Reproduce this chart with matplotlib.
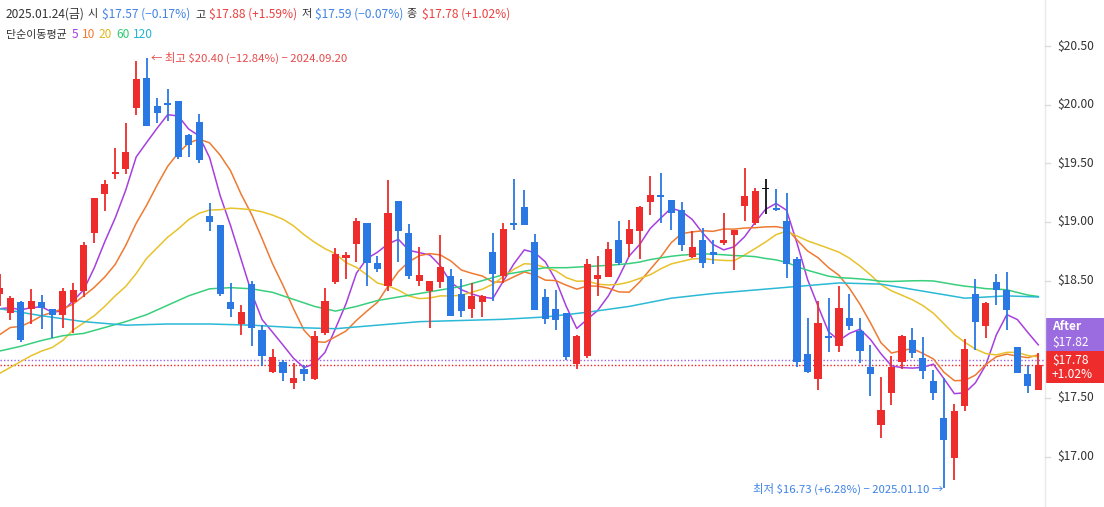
import numpy as np
import matplotlib
matplotlib.use("Agg")
import matplotlib.pyplot as plt
from matplotlib.patches import Rectangle
from matplotlib.lines import Line2D

plt.rcParams['font.family'] = ['Noto Sans CJK KR', 'DejaVu Sans']

# ---------------- data ----------------
opens = [18.39, 18.22, 18.32, 18.26, 18.32, 18.26, 18.21, 18.32, 18.41, 18.91,
         19.24, 19.41, 19.45, 19.97, 20.23, 19.99, 20.01, 20.03, 19.74, 19.85,
         19.05, 18.97, 18.32, 18.13, 18.47, 18.08, 17.72, 17.81, 17.63, 17.75,
         17.66, 18.05, 18.49, 18.69, 18.81, 18.99, 18.65, 18.45, 19.18, 18.91,
         18.50, 18.41, 18.49, 18.54, 18.39, 18.26, 18.32, 18.74, 18.54, 18.99,
         19.13, 18.83, 18.36, 18.26, 18.22, 17.79, 17.86, 18.51, 18.53, 18.85,
         18.81, 18.92, 19.17, 19.23, 19.19, 19.10, 18.70, 18.85, 18.74, 18.82,
         18.89, 19.14, 18.99, 19.28, 19.12, 19.01, 18.68, 17.87, 17.66, 18.03,
         17.94, 18.18, 18.07, 17.76, 17.27, 17.54, 17.81, 17.99, 17.84, 17.64,
         17.33, 16.99, 17.43, 18.39, 18.11, 18.49, 18.42, 17.93, 17.70, 17.57]
highs = [18.56, 18.37, 18.33, 18.43, 18.38, 18.26, 18.44, 18.48, 18.83, 19.20,
         19.36, 19.63, 19.84, 20.37, 20.40, 20.06, 20.13, 20.03, 19.75, 19.92,
         19.16, 18.97, 18.48, 18.29, 18.50, 18.12, 17.92, 17.82, 17.80, 17.78,
         18.07, 18.44, 18.78, 18.74, 19.03, 18.99, 18.71, 19.36, 19.18, 18.98,
         18.79, 18.50, 18.89, 18.60, 18.51, 18.48, 18.38, 18.91, 18.99, 19.37,
         19.27, 18.90, 18.43, 18.42, 18.22, 18.04, 18.68, 18.71, 18.83, 19.01,
         19.02, 19.14, 19.39, 19.42, 19.19, 19.17, 18.92, 18.95, 18.85, 19.08,
         18.93, 19.46, 19.29, 19.37, 19.28, 19.25, 18.70, 18.18, 18.33, 18.35,
         18.45, 18.39, 18.18, 17.95, 17.68, 17.86, 18.04, 18.10, 18.02, 17.74,
         17.67, 17.45, 18.00, 18.51, 18.32, 18.56, 18.57, 17.93, 17.78, 17.88]
lows = [18.28, 18.16, 17.98, 18.13, 18.09, 18.01, 18.10, 18.05, 18.36, 18.82,
        19.09, 19.37, 19.41, 19.91, 19.82, 19.84, 19.86, 19.54, 19.55, 19.50,
        18.92, 18.37, 18.19, 18.04, 17.94, 17.77, 17.71, 17.64, 17.58, 17.64,
        17.65, 18.04, 18.47, 18.51, 18.66, 18.45, 18.57, 18.41, 18.66, 18.51,
        18.45, 18.10, 18.44, 18.20, 18.19, 18.18, 18.19, 18.33, 18.48, 18.93,
        18.97, 18.25, 18.13, 18.08, 17.82, 17.75, 17.84, 18.37, 18.53, 18.63,
        18.70, 18.68, 19.06, 18.99, 18.93, 18.75, 18.69, 18.61, 18.64, 18.80,
        18.59, 19.01, 18.97, 19.07, 19.09, 18.52, 17.76, 17.71, 17.57, 17.89,
        17.89, 18.08, 17.80, 17.52, 17.16, 17.44, 17.75, 17.84, 17.66, 17.48,
        16.73, 16.80, 17.39, 17.91, 18.01, 18.29, 18.08, 17.71, 17.54, 17.57]
closes = [18.44, 18.35, 17.99, 18.33, 18.27, 18.21, 18.41, 18.42, 18.80, 19.20,
          19.32, 19.43, 19.60, 20.22, 19.82, 19.93, 20.00, 19.55, 19.66, 19.53,
          19.00, 18.39, 18.26, 18.23, 18.10, 17.86, 17.85, 17.71, 17.67, 17.70,
          18.03, 18.33, 18.73, 18.72, 19.01, 18.65, 18.60, 19.08, 18.92, 18.54,
          18.55, 18.50, 18.62, 18.20, 18.24, 18.37, 18.37, 18.56, 18.94, 18.97,
          18.97, 18.25, 18.17, 18.16, 17.85, 18.03, 18.64, 18.55, 18.77, 18.65,
          18.94, 19.13, 19.23, 19.21, 19.08, 18.80, 18.79, 18.65, 18.72, 18.85,
          18.93, 19.22, 19.26, 19.28, 19.10, 18.64, 17.81, 17.72, 18.14, 18.01,
          18.27, 18.11, 17.90, 17.70, 17.40, 17.76, 18.03, 17.88, 17.73, 17.54,
          17.14, 17.39, 17.92, 18.15, 18.31, 18.42, 18.25, 17.71, 17.60, 17.78]

# moving-average values before enough visible candles exist
ma5_head = [18.26, 18.27, 18.25, 18.27]
ma10_head = [18.04, 18.10, 18.11, 18.15, 18.20, 18.23, 18.26, 18.30, 18.37]
ma20_head = [17.71, 17.76, 17.81, 17.86, 17.90, 17.93, 17.99, 18.08, 18.14, 18.20,
             18.28, 18.37, 18.45, 18.56, 18.69, 18.78, 18.87, 18.94, 19.02]
ma60_head_idx = list(range(0, 59, 2))
ma60_head = [17.90, 17.94, 17.99, 18.03, 18.05, 18.10, 18.15, 18.21, 18.29, 18.37,
             18.43, 18.44, 18.43, 18.40, 18.34, 18.28, 18.24, 18.28, 18.33, 18.36,
             18.39, 18.42, 18.45, 18.50, 18.55, 18.58, 18.61, 18.61, 18.62, 18.63]
ma120_idx = list(range(0, 97, 4)) + [99]
ma120_vals = [18.26, 18.20, 18.15, 18.12, 18.13, 18.13, 18.12, 18.10, 18.09, 18.12,
              18.15, 18.16, 18.17, 18.19, 18.23, 18.28, 18.35, 18.39, 18.42, 18.45,
              18.48, 18.47, 18.41, 18.35, 18.37, 18.36]

y_ticks = [20.50, 20.00, 19.50, 19.00, 18.50, 17.50, 17.00]
after_price = 17.82
last_close = 17.78

# ---------------- figure ----------------
W, H = 1104, 507
fig = plt.figure(figsize=(W / 100, H / 100), dpi=100)
plot_right = 1045
ax = fig.add_axes([0, 0, plot_right / W, 1])
ax.set_axis_off()

dx, x0 = 10.49, -0.19
ax.set_xlim((0 - x0) / dx, (plot_right - x0) / dx)
ppd, ytop = 117.3, 46
ax.set_ylim(20.5 - (H - ytop) / ppd, 20.5 + ytop / ppd)

RED = '#ee2c2c'
BLUE = '#2a78e4'
o = np.array(opens); h = np.array(highs); l = np.array(lows); c = np.array(closes)
idx = np.arange(len(c))
cols = np.where(c > o, RED, np.where(c < o, BLUE, '#111111'))

ax.vlines(idx, l, h, colors=cols, linewidth=1.3, zorder=3)
bottom = np.minimum(o, c)
height = np.maximum(np.abs(c - o), 0.012)
ax.bar(idx, height, bottom=bottom, width=0.68, color=cols, linewidth=0, zorder=4)

def sma(vals, n):
    v = np.array(vals)
    return np.convolve(v, np.ones(n) / n, mode='valid')

ma_specs = [
    (list(range(len(ma5_head))) + list(range(4, 100)), list(ma5_head) + list(sma(closes, 5)), '#a63fe0'),
    (list(range(len(ma10_head))) + list(range(9, 100)), list(ma10_head) + list(sma(closes, 10)), '#ee7a32'),
    (list(range(len(ma20_head))) + list(range(19, 100)), list(ma20_head) + list(sma(closes, 20)), '#e8c22c'),
    (ma60_head_idx + list(range(59, 100)), ma60_head + list(sma(closes, 60)), '#38cf7c'),
    (ma120_idx, ma120_vals, '#2bb9d6'),
]
for xs, ys, col in ma_specs:
    ax.plot(xs, ys, color=col, lw=1.1, zorder=2, solid_joinstyle='round')

ax.axhline(after_price, color='#9b5de5', lw=1.0, ls=(0, (1, 1.5)), zorder=1)
ax.axhline(last_close, color='#ee2020', lw=1.0, ls=(0, (1, 1.5)), zorder=1)

# ---------------- helpers in pixel coords ----------------
def fx(x):
    return x / W

def fy(y):
    return 1 - y / H

def ypix(p):
    return ytop + (20.5 - p) * ppd

FS = 8.6
FSK = 8.0
GRAY = '#333333'
LBLUE = '#3f82e6'
LRED = '#ec3f3f'

# header line 1
hdr = [
    (6, '2025.01.24(금)', GRAY, FS), (88, '시', GRAY, FSK), (102, '$17.57 (−0.17%)', LBLUE, FS),
    (195, '고', GRAY, FSK), (209, '$17.88 (+1.59%)', LRED, FS), (301, '저', GRAY, FSK),
    (315, '$17.59 (−0.07%)', LBLUE, FS), (406, '종', GRAY, FSK), (422, '$17.78 (+1.02%)', LRED, FS),
]
for x, s, col, fs in hdr:
    fig.text(fx(x), fy(14), s, color=col, fontsize=fs, va='center', ha='left')

hdr2 = [
    (6, '단순이동평균', GRAY), (72, '5', '#a63fe0'), (82, '10', '#ee7a32'),
    (99, '20', '#e0b820'), (116, '60', '#2ecb72'), (133, '120', '#25b4d4'),
]
for x, s, col in hdr2:
    fig.text(fx(x), fy(35), s, color=col, fontsize=(7.9 if x == 6 else FS), va='center', ha='left')

# annotations
fig.text(fx(151), fy(58), '← 최고 $20.40 (−12.84%) − 2024.09.20', color='#e84b4b',
         fontsize=8.2, va='center', ha='left')
fig.text(fx(943), fy(489), '최저 $16.73 (+6.28%) − 2025.01.10 →', color='#3f82e6',
         fontsize=8.2, va='center', ha='right')

# right axis
fig.add_artist(Line2D([fx(plot_right), fx(plot_right)], [0, 1], color='#e8e8e8', lw=1.0))
for t in y_ticks:
    yp = ypix(t)
    fig.add_artist(Line2D([fx(plot_right), fx(plot_right + 5)], [fy(yp), fy(yp)], color='#dddddd', lw=1.0))
    fig.text(fx(1057), fy(yp), f'${t:.2f}', color=GRAY, fontsize=8.7, va='center', ha='left')

# price label boxes
fig.add_artist(Rectangle((fx(plot_right), fy(351)), fx(W - plot_right), 33 / H,
                         transform=fig.transFigure, color='#9b6be0', lw=0))
fig.add_artist(Rectangle((fx(plot_right), fy(383)), fx(W - plot_right), 32 / H,
                         transform=fig.transFigure, color='#ee2c2c', lw=0))
fig.text(fx(1052), fy(327), 'After', color='white', fontsize=8.6, va='center', ha='left', fontweight='bold')
fig.text(fx(1052), fy(342), f'${after_price:.2f}', color='white', fontsize=8.6, va='center', ha='left')
fig.text(fx(1052), fy(360), f'${last_close:.2f}', color='white', fontsize=8.6, va='center', ha='left')
fig.text(fx(1052), fy(375), '+1.02%', color='white', fontsize=8.6, va='center', ha='left')

fig.savefig('out.png', dpi=100, facecolor='white')
